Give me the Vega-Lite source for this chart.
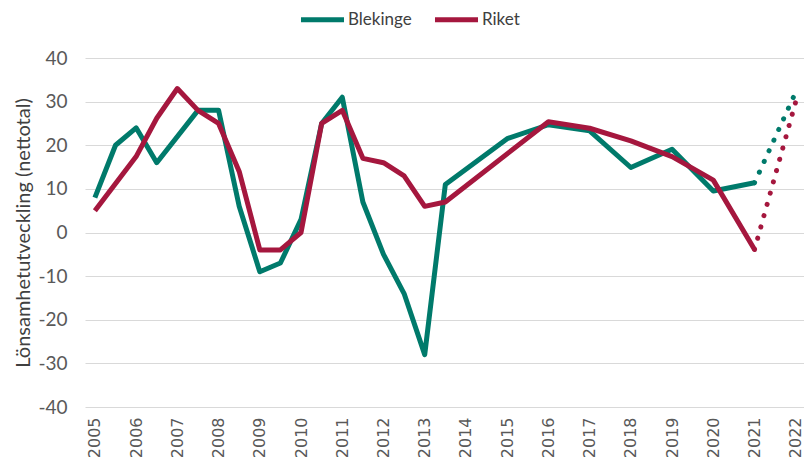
{
  "$schema": "https://vega.github.io/schema/vega-lite/v6.json",
  "autosize": "none",
  "width": 719,
  "height": 349,
  "padding": {"left": 85, "top": 58, "right": 0, "bottom": 52},
  "background": "white",
  "config": {
    "view": {"stroke": null},
    "font": "Lato"
  },
  "data": {
    "values": [
      {"ar": 2005, "region": "Blekinge", "typ": "utfall", "v": 8},
      {"ar": 2005.5, "region": "Blekinge", "typ": "utfall", "v": 20},
      {"ar": 2006, "region": "Blekinge", "typ": "utfall", "v": 24},
      {"ar": 2006.5, "region": "Blekinge", "typ": "utfall", "v": 16},
      {"ar": 2007.5, "region": "Blekinge", "typ": "utfall", "v": 28},
      {"ar": 2008, "region": "Blekinge", "typ": "utfall", "v": 28},
      {"ar": 2008.5, "region": "Blekinge", "typ": "utfall", "v": 6},
      {"ar": 2009, "region": "Blekinge", "typ": "utfall", "v": -9},
      {"ar": 2009.5, "region": "Blekinge", "typ": "utfall", "v": -7},
      {"ar": 2010, "region": "Blekinge", "typ": "utfall", "v": 3},
      {"ar": 2010.5, "region": "Blekinge", "typ": "utfall", "v": 25},
      {"ar": 2011, "region": "Blekinge", "typ": "utfall", "v": 31},
      {"ar": 2011.5, "region": "Blekinge", "typ": "utfall", "v": 7},
      {"ar": 2012, "region": "Blekinge", "typ": "utfall", "v": -5},
      {"ar": 2012.5, "region": "Blekinge", "typ": "utfall", "v": -14},
      {"ar": 2013, "region": "Blekinge", "typ": "utfall", "v": -28},
      {"ar": 2013.5, "region": "Blekinge", "typ": "utfall", "v": 11},
      {"ar": 2015, "region": "Blekinge", "typ": "utfall", "v": 21.5},
      {"ar": 2016, "region": "Blekinge", "typ": "utfall", "v": 24.7},
      {"ar": 2017, "region": "Blekinge", "typ": "utfall", "v": 23.3},
      {"ar": 2018, "region": "Blekinge", "typ": "utfall", "v": 14.9},
      {"ar": 2019, "region": "Blekinge", "typ": "utfall", "v": 19.1},
      {"ar": 2020, "region": "Blekinge", "typ": "utfall", "v": 9.5},
      {"ar": 2021, "region": "Blekinge", "typ": "utfall", "v": 11.4},
      {"ar": 2005, "region": "Riket", "typ": "utfall", "v": 5},
      {"ar": 2006, "region": "Riket", "typ": "utfall", "v": 17.4},
      {"ar": 2006.5, "region": "Riket", "typ": "utfall", "v": 26.2},
      {"ar": 2007, "region": "Riket", "typ": "utfall", "v": 33},
      {"ar": 2007.5, "region": "Riket", "typ": "utfall", "v": 28},
      {"ar": 2008, "region": "Riket", "typ": "utfall", "v": 25},
      {"ar": 2008.5, "region": "Riket", "typ": "utfall", "v": 14},
      {"ar": 2009, "region": "Riket", "typ": "utfall", "v": -4},
      {"ar": 2009.5, "region": "Riket", "typ": "utfall", "v": -4},
      {"ar": 2010, "region": "Riket", "typ": "utfall", "v": 0},
      {"ar": 2010.5, "region": "Riket", "typ": "utfall", "v": 25},
      {"ar": 2011, "region": "Riket", "typ": "utfall", "v": 28},
      {"ar": 2011.5, "region": "Riket", "typ": "utfall", "v": 17},
      {"ar": 2012, "region": "Riket", "typ": "utfall", "v": 16},
      {"ar": 2012.5, "region": "Riket", "typ": "utfall", "v": 13},
      {"ar": 2013, "region": "Riket", "typ": "utfall", "v": 6},
      {"ar": 2013.5, "region": "Riket", "typ": "utfall", "v": 7},
      {"ar": 2016, "region": "Riket", "typ": "utfall", "v": 25.4},
      {"ar": 2017, "region": "Riket", "typ": "utfall", "v": 23.9},
      {"ar": 2018, "region": "Riket", "typ": "utfall", "v": 21},
      {"ar": 2019, "region": "Riket", "typ": "utfall", "v": 17.4},
      {"ar": 2020, "region": "Riket", "typ": "utfall", "v": 12},
      {"ar": 2021, "region": "Riket", "typ": "utfall", "v": -3.9},
      {"ar": 2021, "region": "Blekinge", "typ": "prognos", "v": 11.4},
      {"ar": 2022, "region": "Blekinge", "typ": "prognos", "v": 32.2},
      {"ar": 2021, "region": "Riket", "typ": "prognos", "v": -3.9},
      {"ar": 2022, "region": "Riket", "typ": "prognos", "v": 30}
    ]
  },
  "encoding": {
    "x": {
      "field": "ar",
      "type": "quantitative",
      "scale": {"domain": [2004.76, 2022.2], "nice": false, "zero": false},
      "axis": {
        "values": [2005, 2006, 2007, 2008, 2009, 2010, 2011, 2012, 2013, 2014, 2015, 2016, 2017, 2018, 2019, 2020, 2021, 2022],
        "format": "d",
        "labelAngle": -90,
        "labelAlign": "right",
        "labelBaseline": "middle",
        "labelFont": "DejaVu Sans",
        "labelFontSize": 16,
        "labelColor": "#595959",
        "labelPadding": 10,
        "labelOverlap": false,
        "labelFlush": false,
        "ticks": false,
        "domain": false,
        "grid": false,
        "title": null
      }
    },
    "y": {
      "field": "v",
      "type": "quantitative",
      "scale": {"domain": [-40, 40], "nice": false},
      "axis": {
        "values": [-40, -30, -20, -10, 0, 10, 20, 30, 40],
        "labelExpr": "replace(datum.label, '−', '-')",
        "labelFont": "Lato",
        "labelFontSize": 19,
        "labelColor": "#595959",
        "labelPadding": 18,
        "ticks": false,
        "domain": false,
        "grid": true,
        "gridColor": "#d9d9d9",
        "gridWidth": 1,
        "title": "Lönsamhetutveckling (nettotal)",
        "titleFont": "Lato",
        "titleFontSize": 20,
        "titleFontWeight": "normal",
        "titleColor": "#404040",
        "titlePadding": 4
      }
    },
    "color": {
      "field": "region",
      "type": "nominal",
      "scale": {"domain": ["Blekinge", "Riket"], "range": ["#007A6B", "#A5173E"]},
      "legend": {
        "orient": "none",
        "legendX": 213,
        "legendY": -63,
        "direction": "horizontal",
        "title": null,
        "symbolType": "stroke",
        "symbolSize": 1850,
        "symbolStrokeWidth": 5,
        "labelFont": "Lato",
        "labelFontSize": 17,
        "labelColor": "#404040",
        "labelOffset": 1,
        "columnPadding": 12
      }
    },
    "detail": {"field": "typ"}
  },
  "layer": [
    {
      "transform": [{"filter": "datum.typ === 'utfall'"}],
      "mark": {"type": "line", "strokeWidth": 5, "strokeJoin": "round", "strokeCap": "butt"}
    },
    {
      "transform": [{"filter": "datum.typ === 'prognos'"}],
      "mark": {"type": "line", "strokeWidth": 5, "strokeCap": "round", "strokeDash": [0.1, 11.6]}
    }
  ]
}
